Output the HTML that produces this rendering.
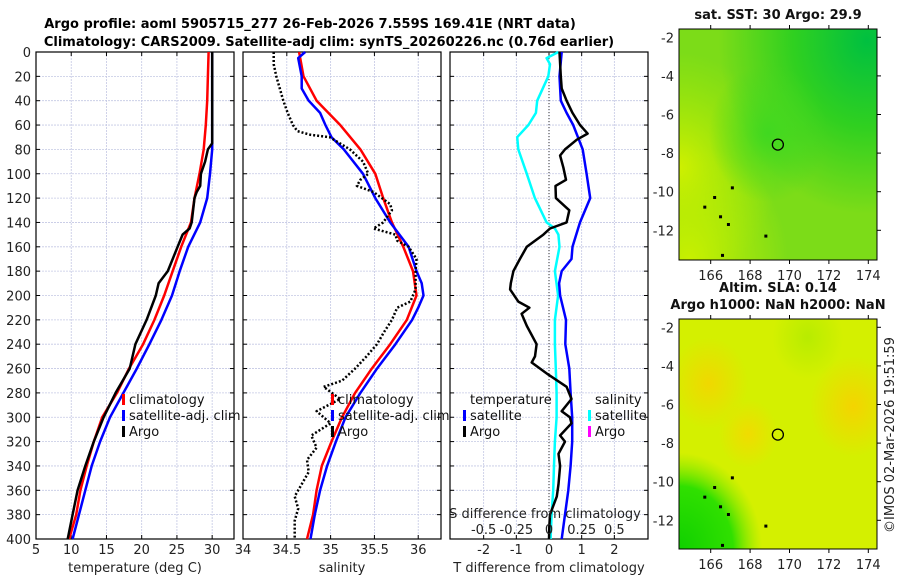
<!DOCTYPE html>
<html><head><meta charset="utf-8"><style>
html,body{margin:0;padding:0;background:#fff;width:900px;height:580px;overflow:hidden}
svg{display:block;font-family:"DejaVu Sans","Liberation Sans",sans-serif}
</style></head><body>
<svg id="fig" width="900" height="580" viewBox="0 0 900 580" xmlns="http://www.w3.org/2000/svg">
<defs>
<radialGradient id="g1a" cx="0.95" cy="0.05" r="0.75"><stop offset="0" stop-color="#00c040"/><stop offset="0.5" stop-color="#30d020"/><stop offset="1" stop-color="#30d020" stop-opacity="0"/></radialGradient>
<radialGradient id="g1b" cx="0" cy="0.6" r="0.5"><stop offset="0" stop-color="#d0f000"/><stop offset="1" stop-color="#b0ec00" stop-opacity="0"/></radialGradient>
<radialGradient id="g1c" cx="0.05" cy="1" r="0.5"><stop offset="0" stop-color="#c8f000"/><stop offset="1" stop-color="#c8f000" stop-opacity="0"/></radialGradient>
<radialGradient id="g1d" cx="0.45" cy="0.45" r="0.3"><stop offset="0" stop-color="#40d820"/><stop offset="1" stop-color="#40d820" stop-opacity="0"/></radialGradient>
<radialGradient id="g2a" cx="0.0" cy="1" r="0.42"><stop offset="0" stop-color="#10d000"/><stop offset="0.65" stop-color="#30e000"/><stop offset="1" stop-color="#80e800" stop-opacity="0"/></radialGradient>
<radialGradient id="g2b" cx="0.15" cy="0.28" r="0.2"><stop offset="0" stop-color="#f0d800"/><stop offset="1" stop-color="#f0d800" stop-opacity="0"/></radialGradient>
<radialGradient id="g2c" cx="0.88" cy="0.38" r="0.22"><stop offset="0" stop-color="#f4d400"/><stop offset="1" stop-color="#f4d400" stop-opacity="0"/></radialGradient>
<radialGradient id="g2d" cx="0.35" cy="0.5" r="0.15"><stop offset="0" stop-color="#f0dc00"/><stop offset="1" stop-color="#f0dc00" stop-opacity="0"/></radialGradient>
<radialGradient id="g2e" cx="0.65" cy="0.08" r="0.18"><stop offset="0" stop-color="#b8ec00"/><stop offset="1" stop-color="#b8ec00" stop-opacity="0"/></radialGradient>
</defs>
<text x="310" y="28" text-anchor="middle" font-size="13" font-weight="bold">Argo profile: aoml 5905715_277 26-Feb-2026 7.559S 169.41E (NRT data)</text>
<text x="329" y="46" text-anchor="middle" font-size="13" font-weight="bold">Climatology: CARS2009. Satellite-adj clim: synTS_20260226.nc (0.76d earlier)</text>
<g id="p1"></g>
<g id="p2"></g>
<g id="p3"></g>
<g id="maps"></g>
<text transform="translate(894,435) rotate(-90)" text-anchor="middle" font-size="13" fill="#222">©IMOS 02-Mar-2026 19:51:59</text>
</svg>
<script>
const depths=[0,20,40,60,80,100,120,140,160,180,200,220,240,260,280,300,320,340,360,380,400];
const tempClim=[29.5,29.4,29.3,29.1,28.8,28.2,27.5,27.0,25.6,24.4,23.2,21.8,20.2,18.2,16.5,14.4,13.2,12.2,11.3,10.7,9.7];
const tempSat=[30.0,30.0,30.0,30.0,30.0,29.7,29.3,28.3,26.6,25.4,24.3,22.8,21.1,19.3,17.4,15.5,14.1,12.9,12.0,11.1,10.2];
const argoDepths=[0,20,40,60,75,80,90,100,110,115,120,140,145,150,160,180,190,200,220,240,260,280,300,320,340,360,380,400];
const tempArgo=[30.0,30.0,30.0,30.0,30.0,29.4,29.0,28.4,28.3,27.8,27.5,27.1,26.8,25.8,25.1,23.7,22.4,22.0,20.7,19.1,18.3,16.3,14.6,13.2,12.0,10.9,10.2,9.5];
const salClim=[34.64,34.69,34.84,35.11,35.34,35.51,35.60,35.70,35.83,35.94,35.98,35.87,35.68,35.47,35.28,35.13,35.01,34.90,34.84,34.80,34.73];
const salSatDepths=[0,5,20,30,40,50,60,70,80,100,120,140,160,180,190,200,210,220,240,260,280,300,320,340,360,380,400];
const salSat=[34.71,34.63,34.67,34.67,34.75,34.88,34.94,35.01,35.15,35.37,35.51,35.68,35.89,35.98,36.04,36.06,36.00,35.93,35.74,35.53,35.34,35.17,35.06,34.96,34.88,34.82,34.77];
const salArgoDepths=[0,10,20,30,40,50,60,65,68,70,80,90,100,105,110,115,125,130,140,145,150,155,160,170,180,195,205,210,220,230,240,250,260,270,275,285,295,305,315,325,335,345,355,365,375,385,400];
const salArgo=[34.35,34.35,34.38,34.42,34.46,34.51,34.57,34.62,34.77,34.99,35.22,35.37,35.43,35.34,35.30,35.49,35.68,35.70,35.60,35.49,35.74,35.76,35.89,35.98,35.97,35.97,35.91,35.76,35.70,35.61,35.53,35.41,35.28,35.13,34.92,35.11,34.84,35.00,34.78,34.84,34.73,34.75,34.67,34.59,34.63,34.59,34.59];
const dTSatDepths=[0,20,40,50,60,80,100,120,140,160,170,180,190,200,220,240,260,280,300,320,340,360,380,400];
const dTSat=[0.39,0.32,0.36,0.54,0.74,1.03,1.15,1.26,0.95,0.72,0.69,0.39,0.31,0.34,0.52,0.50,0.62,0.66,0.71,0.71,0.66,0.59,0.49,0.39];
const dTArgoDepths=[0,20,30,40,50,60,67,72,80,85,95,105,110,120,130,140,145,150,160,170,180,190,195,205,210,215,225,240,250,255,265,275,285,295,300,305,315,320,330,340,355,365,380,390,400];
const dTArgo=[0.32,0.36,0.39,0.54,0.72,0.95,1.18,0.85,0.49,0.34,0.44,0.52,0.20,0.21,0.62,0.54,0.03,-0.17,-0.68,-0.89,-1.09,-1.17,-1.19,-0.94,-0.60,-0.84,-0.68,-0.38,-0.43,-0.53,-0.02,0.54,0.69,0.39,0.64,0.69,0.34,0.49,0.29,0.34,0.29,0.24,0.03,0.01,0.0];
const dSSatDepths=[0,5,10,20,40,50,60,70,80,100,120,140,145,150,160,180,200,220,240,260,280,300,320,340,360,380,400];
const dSSat=[0.072,-0.018,0.008,-0.005,-0.09,-0.10,-0.158,-0.243,-0.235,-0.17,-0.108,-0.018,0.045,0.072,0.08,0.045,0.07,0.045,0.045,0.052,0.058,0.058,0.045,0.038,0.032,0.02,0.012];
const tTicks=[5,10,15,20,25,30];
const sTicks=["34","34.5","35","35.5","36"];
const dTicks=["-2","-1","0","1","2"];
const dSTicks=["-0.5","-0.25","0","0.25","0.5"];
const depthTicks=[0,20,40,60,80,100,120,140,160,180,200,220,240,260,280,300,320,340,360,380,400];

const NS='http://www.w3.org/2000/svg';
function mk(parent,tag,attrs){const e=document.createElementNS(NS,tag);for(const k in attrs)e.setAttribute(k,attrs[k]);parent.appendChild(e);return e;}
const Y0=52,Y1=539;
const yS=d=>Y0+d*(Y1-Y0)/400;

function panel(g,x0,x1,xmin,xmax,ticks,showY,xtitle,name){
  const xS=v=>x0+(v-xmin)*(x1-x0)/(xmax-xmin);
  depthTicks.forEach(d=>{
    const l=mk(g,'line',{x1:x0,x2:x1,y1:yS(d),y2:yS(d),stroke:'#c4c8e4','stroke-width':0.8,'stroke-dasharray':'2,1'});
    
    
    mk(g,'line',{x1:x0,x2:x0+4,y1:yS(d),y2:yS(d),stroke:'#000'});
    mk(g,'line',{x1:x1-4,x2:x1,y1:yS(d),y2:yS(d),stroke:'#000'});
    if(showY){const t=mk(g,'text',{x:x0-5,y:yS(d)+5,'text-anchor':'end','font-size':13,fill:'#222'});t.textContent=d;
      
      }
  });
  ticks.forEach(tv=>{const v=parseFloat(tv);const x=xS(v);
    const l=mk(g,'line',{x1:x,x2:x,y1:Y0,y2:Y1,stroke:'#c4c8e4','stroke-width':0.8,'stroke-dasharray':'2,1'});
    
    
    mk(g,'line',{x1:x,x2:x,y1:Y1-4,y2:Y1,stroke:'#000'});
    mk(g,'line',{x1:x,x2:x,y1:Y0,y2:Y0+4,stroke:'#000'});
    const t=mk(g,'text',{x:x,y:554,'text-anchor':'middle','font-size':13,fill:'#222'});t.textContent=tv;
    
    
  });
  const r=mk(g,'rect',{x:x0,y:Y0,width:x1-x0,height:Y1-Y0,fill:'none',stroke:'#000','stroke-width':1.2});
  
  
  const t=mk(g,'text',{x:(x0+x1)/2,y:572,'text-anchor':'middle','font-size':13,fill:'#222'});t.textContent=xtitle;
  
  
  return xS;
}
function line(g,xS,ds,vs,color,w,name,dash){
  const p=ds.map((d,i)=>xS(vs[i]).toFixed(1)+','+yS(d).toFixed(1)).join(' ');
  const a={points:p,fill:'none',stroke:color,'stroke-width':w,'stroke-linejoin':'round'};
  if(dash){a['stroke-dasharray']=dash;}
  const e=mk(g,'polyline',a);
  
  
}
function legend(g,x,y,items){
  items.forEach((it,i)=>{
    if(it[1]){mk(g,'rect',{x:x,y:y+i*16-10,width:3,height:11,fill:it[1]});}
    const t=mk(g,'text',{x:x+7,y:y+i*16,'font-size':13,fill:'#111'});t.textContent=it[0];
    
    
  });
}
// Panel 1
const g1=document.getElementById('p1');
const xT=panel(g1,36,234,5,33.1,tTicks,true,'temperature (deg C)','temperature-panel');
line(g1,xT,depths,tempClim,'#f00',2.5,'temp-climatology-line');
line(g1,xT,depths,tempSat,'#00f',2.5,'temp-satellite-line');
line(g1,xT,argoDepths,tempArgo,'#000',2.5,'temp-argo-line');
legend(g1,122,404,[['climatology','#f00'],['satellite-adj. clim','#00f'],['Argo','#000']]);
// Panel 2
const g2=document.getElementById('p2');
const xSal=panel(g2,243,441,34,36.26,sTicks,false,'salinity','salinity-panel');
line(g2,xSal,depths,salClim,'#f00',2.5,'sal-climatology-line');
line(g2,xSal,salSatDepths,salSat,'#00f',2.5,'sal-satellite-line');
line(g2,xSal,salArgoDepths,salArgo,'#000',2.5,'sal-argo-line','2,2');
legend(g2,331,404,[['climatology','#f00'],['satellite-adj. clim','#00f'],['Argo','#000']]);
// Panel 3
const g3=document.getElementById('p3');
const xD=panel(g3,450,648,-3.03,3.03,dTicks,false,'T difference from climatology','difference-panel');
const z=mk(g3,'line',{x1:xD(0),x2:xD(0),y1:Y0,y2:Y1,stroke:'#333','stroke-width':1,'stroke-dasharray':'1,2'});


const xDS=v=>xD(v*4);
line(g3,xDS,dSSatDepths,dSSat,'#0ff',2.5,'sal-diff-satellite-line');
line(g3,xD,dTSatDepths,dTSat,'#00f',2.5,'temp-diff-satellite-line');
line(g3,xD,dTArgoDepths,dTArgo,'#000',2.5,'temp-diff-argo-line');
legend(g3,463,404,[['temperature',null],['satellite','#00f'],['Argo','#000']]);
legend(g3,588,404,[['salinity',null],['satellite','#0ff'],['Argo','#f0f']]);
let st=mk(g3,'text',{x:545,y:518,'text-anchor':'middle','font-size':13,fill:'#222'});st.textContent='S difference from climatology';


dSTicks.forEach(tv=>{const t=mk(g3,'text',{x:xDS(parseFloat(tv)),y:534,'text-anchor':'middle','font-size':13,fill:'#222'});t.textContent=tv;
  
  });
// Maps
const gm=document.getElementById('maps');
const lonTicks=[166,168,170,172,174];
const latTicks=[-2,-4,-6,-8,-10,-12];
const argoLon=169.41, argoLat=-7.559;
function map(x0,y0,x1,y1,latRef,fills,titles,name){
  const lx=v=>710.7+(v-166)*19.7;
  const ly=v=>latRef+(-2-v)*19.3;
  const bg=mk(gm,'rect',{x:x0,y:y0,width:x1-x0,height:y1-y0,fill:fills[0]});
  
  
  fills.slice(1).forEach(f=>mk(gm,'rect',{x:x0,y:y0,width:x1-x0,height:y1-y0,fill:f}));
  latTicks.forEach(v=>{mk(gm,'line',{x1:x1,x2:x1+4,y1:ly(v),y2:ly(v),stroke:'#000'});
    const t=mk(gm,'text',{x:x0-5,y:ly(v)+5,'text-anchor':'end','font-size':13,fill:'#222'});t.textContent=v;
    
    });
  lonTicks.forEach(v=>{mk(gm,'line',{x1:lx(v),x2:lx(v),y1:y1,y2:y1+4,stroke:'#000'});mk(gm,'line',{x1:lx(v),x2:lx(v),y1:y0-4,y2:y0,stroke:'#000'});
    const t=mk(gm,'text',{x:lx(v),y:y1+20,'text-anchor':'middle','font-size':13,fill:'#222'});t.textContent=v;
    
    });
  const fr=mk(gm,'rect',{x:x0,y:y0,width:x1-x0,height:y1-y0,fill:'none',stroke:'#000','stroke-width':1});
  
  
  const c=mk(gm,'circle',{cx:lx(argoLon),cy:ly(argoLat),r:5.5,fill:'none',stroke:'#000','stroke-width':1.3});
  
  
  titles.forEach((tt,i)=>{const t=mk(gm,'text',{x:778,y:tt[1],'text-anchor':'middle','font-size':13,'font-weight':'bold',fill:'#111'});t.textContent=tt[0];
    
    });
  [[165.7,-10.8],[166.5,-11.3],[166.9,-11.7],[167.1,-9.8],[166.6,-13.3],[168.8,-12.3],[166.2,-10.3]].forEach(p=>{
    mk(gm,'rect',{x:lx(p[0])-1.5,y:ly(p[1])-1.5,width:3,height:3,fill:'#000'});});
}
map(679,29,877,260,37.3,['#7cdc18','url(#g1b)','url(#g1c)','url(#g1a)','url(#g1d)'],[['sat. SST: 30 Argo: 29.9',19]],'sst-map');
map(679,319,877,549,327.3,['#d4f000','url(#g2e)','url(#g2b)','url(#g2c)','url(#g2d)','url(#g2a)'],[['Altim. SLA: 0.14',292],['Argo h1000: NaN h2000: NaN',309]],'sla-map');
</script>
</body></html>
